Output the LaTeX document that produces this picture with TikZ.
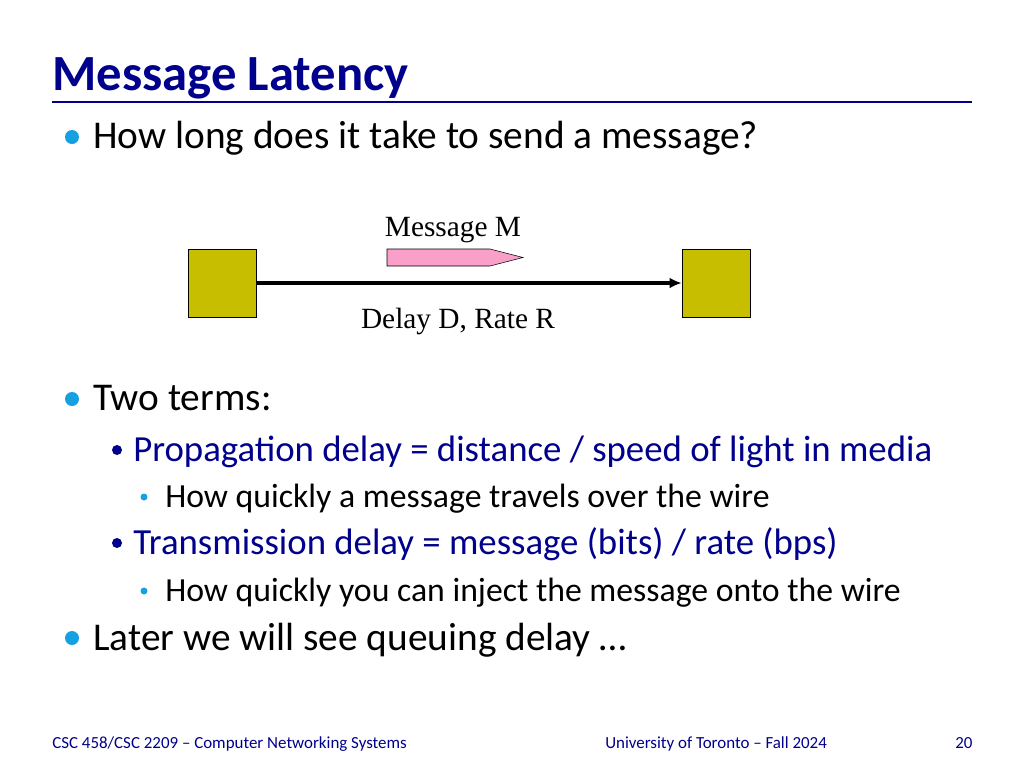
\documentclass[tikz,border=0pt]{standalone}
\usepackage{fontspec}
\setmainfont{Carlito}
\newfontfamily\serifface{Liberation Serif}
\usetikzlibrary{arrows.meta, shapes.arrows}
\definecolor{navy}{RGB}{0,0,140}
\definecolor{dotblue}{RGB}{20,160,225}
\definecolor{olive}{RGB}{200,190,0}
\definecolor{pinkish}{RGB}{250,160,200}
\begin{document}
\begin{tikzpicture}[x=0.75pt, y=-0.75pt]
        \tikzstyle{every node} = [inner sep=0pt, anchor=base west]
        \tikzstyle{lvla} = [font=\fontsize{29.5}{34}\selectfont]
        \tikzstyle{lvlb} = [font=\fontsize{27.6}{32}\selectfont, text=navy]
        \tikzstyle{lvlc} = [font=\fontsize{25.3}{30}\selectfont]
        \tikzstyle{host} = [draw, fill=olive, minimum width=51pt, minimum height=51pt, anchor=center]
        \tikzstyle{foot} = [font=\fontsize{12.7}{15}\selectfont, text=navy]

        \useasboundingbox (0,0) rectangle (1024,768);

        % title
        \node[font=\fontsize{38}{44}\selectfont\bfseries, text=navy] (title) at (52,90) {Message Latency};
        \draw[navy, line width=2pt] (52,102) -- (972,102);

        % bullets
        \foreach \y in {137, 399, 638} \fill[dotblue] (72,\y) circle (7);
        \foreach \y in {450, 543} \fill[navy] (117,\y) circle (5);
        \foreach \y in {497, 591} \fill[dotblue] (144,\y) circle (3.5);

        \node[lvla] (qa) at (93,148) {How long does it take to send a message?};
        \node[lvla] (qb) at (93,410) {Two terms:};
        \node[lvlb] (pa) at (133,461) {Propagation delay = distance / speed of light in media};
        \node[lvlc] (pb) at (165,507) {How quickly a message travels over the wire};
        \node[lvlb] (ta) at (133,554) {Transmission delay = message (bits) / rate (bps)};
        \node[lvlc] (tb) at (165,601) {How quickly you can inject the message onto the wire};
        \node[lvla] (qc) at (93,650) {Later we will see queuing delay …};

        % diagram
        \node[host] (src) at (222,283) {};
        \node[host] (dst) at (716,283) {};
        \draw[line width=2.4pt, -{Latex[length=9pt,width=8pt]}] (src.east) -- (dst.west);
        \draw[fill=pinkish] (387,249) -- (490,249) -- (523,257.5) -- (490,266) -- (387,266) -- cycle;
        \node[font=\serifface\fontsize{22}{26}\selectfont, anchor=base] (msg) at (453,236) {Message M};
        \node[font=\serifface\fontsize{22}{26}\selectfont, anchor=base] (lnk) at (458,328) {Delay D, Rate R};

        % footer
        \node[foot] (fl) at (52,748) {CSC 458/CSC 2209 – Computer Networking Systems};
        \node[foot] (fm) at (605,748) {University of Toronto – Fall 2024};
        \node[foot] (fr) at (955,748) {20};
\end{tikzpicture}
\end{document}
